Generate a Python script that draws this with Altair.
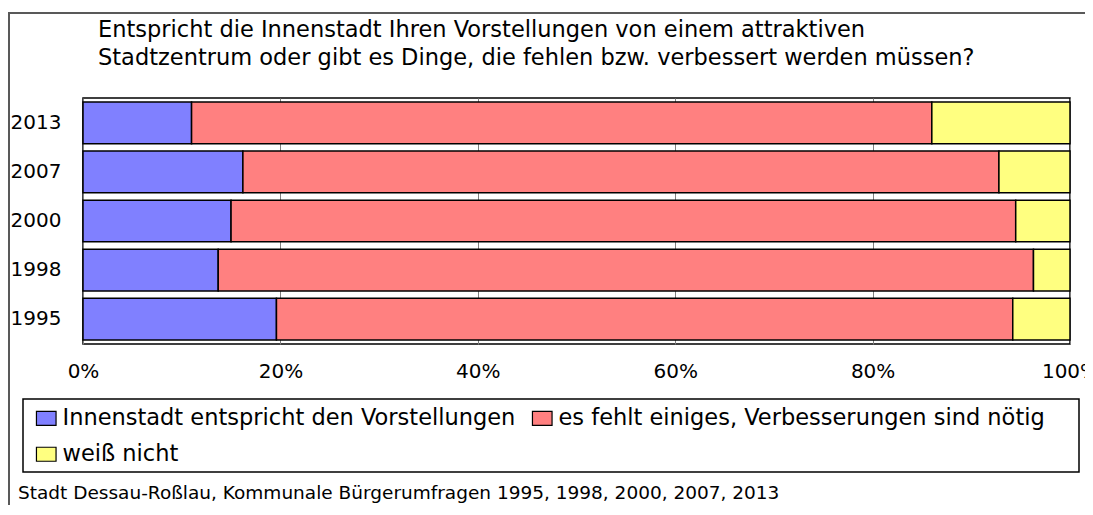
import altair as alt
import pandas as pd

years = ["1995", "1998", "2000", "2007", "2013"]
year_order = ["2013", "2007", "2000", "1998", "1995"]
categories = [
    "Innenstadt entspricht den Vorstellungen",
    "es fehlt einiges, Verbesserungen sind nötig",
    "weiß nicht",
]
entspricht = [19.6, 13.7, 15.0, 16.2, 11.0]
fehlt = [74.6, 82.6, 79.5, 76.6, 75.0]
weiss = [5.8, 3.7, 5.5, 7.2, 14.0]
colors = ["#8080FF", "#FF8080", "#FFFF80"]
x_ticks = [0, 0.2, 0.4, 0.6, 0.8, 1.0]

title_lines = [
    "Entspricht die Innenstadt Ihren Vorstellungen von einem attraktiven",
    "Stadtzentrum oder gibt es Dinge, die fehlen bzw. verbessert werden müssen?",
]
footer = "Stadt Dessau-Roßlau,  Kommunale Bürgerumfragen 1995, 1998, 2000, 2007,  2013"

rows = []
for i, y in enumerate(years):
    for k, (cat, series) in enumerate(zip(categories, [entspricht, fehlt, weiss])):
        rows.append({"Jahr": y, "Antwort": cat, "Anteil": series[i], "ord": k})
df = pd.DataFrame(rows)

FONT = "DejaVu Sans"

bars = alt.Chart(df).mark_bar(stroke="black", strokeWidth=1.5).encode(
    x=alt.X(
        "Anteil:Q",
        stack="normalize",
        scale=alt.Scale(domain=[0, 1], nice=False),
        axis=alt.Axis(
            values=x_ticks, format=".0%", title=None, ticks=False, tickSize=0,
            domain=False, labelFontSize=20, labelFont=FONT, labelColor="black",
            labelPadding=27, labelBaseline="middle", labelFlush=False,
            labelOverlap=False, labelBound=False, grid=True,
            gridColor="#808080", gridWidth=1,
        ),
    ),
    y=alt.Y(
        "Jahr:N",
        sort=year_order,
        scale=alt.Scale(paddingInner=0.15, paddingOuter=0.08),
        axis=alt.Axis(
            title=None, ticks=False, tickSize=0, domain=False, labelAlign="left",
            labelPadding=73, labelFontSize=20, labelFont=FONT, labelColor="black",
            grid=False,
        ),
    ),
    color=alt.Color(
        "Antwort:N",
        scale=alt.Scale(domain=categories, range=colors),
        legend=alt.Legend(
            title=None, orient="none", legendX=-48, legendY=309,
            direction="horizontal", columns=2, columnPadding=14, rowPadding=13,
            symbolType="M-1.4,-1H1.4V1H-1.4Z", symbolSize=196,
            symbolStrokeColor="black", symbolStrokeWidth=1.2, symbolOpacity=1,
            labelFontSize=22.5, labelFont=FONT, labelColor="black", labelOffset=5,
            labelLimit=0, padding=0,
        ),
    ),
    order=alt.Order("ord:Q"),
)

one = alt.Data(values=[{}])

frame = alt.Chart(one).mark_rect(fill=None, stroke="#595959", strokeWidth=2).encode(
    x=alt.value(-74), x2=alt.value(1040), y=alt.value(-85), y2=alt.value(447)
)
legend_box = alt.Chart(one).mark_rect(fill=None, stroke="black", strokeWidth=1.5).encode(
    x=alt.value(-60), x2=alt.value(996), y=alt.value(301), y2=alt.value(374)
)
title1 = alt.Chart(one).mark_text(
    align="left", baseline="alphabetic", fontSize=22.5, font=FONT, color="black"
).encode(x=alt.value(15), y=alt.value(-61), text=alt.value(title_lines[0]))
title2 = alt.Chart(one).mark_text(
    align="left", baseline="alphabetic", fontSize=22.5, font=FONT, color="black"
).encode(x=alt.value(15), y=alt.value(-33), text=alt.value(title_lines[1]))
foot = alt.Chart(one).mark_text(
    align="left", baseline="alphabetic", fontSize=18.5, font=FONT, color="black"
).encode(x=alt.value(-65), y=alt.value(401), text=alt.value(footer))

chart = alt.layer(frame, bars, legend_box, title1, title2, foot).properties(
    width=987,
    height=246,
    autosize=alt.AutoSizeParams(type="none"),
    padding={"left": 75, "top": 90, "right": 15, "bottom": 161},
    background="white",
).configure_view(stroke="black", strokeWidth=1.5)

chart.save("out.html", embed_options={"renderer": "svg", "actions": False})
